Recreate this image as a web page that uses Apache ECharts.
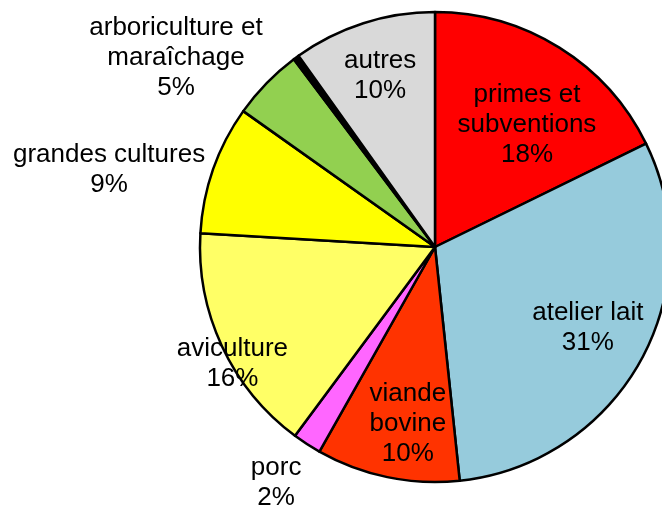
<!DOCTYPE html>
<html>
<head>
<meta charset="utf-8">
<script src="https://cdn.jsdelivr.net/npm/echarts@6/dist/echarts.min.js"></script>
<style>
  html, body { margin: 0; padding: 0; background: #fff; }
  #chart { width: 662px; height: 509px; }
</style>
</head>
<body>
<div id="chart"></div>
<script>
// slices clockwise from 12 o'clock
const categories = [
  "primes et\nsubventions",
  "atelier lait",
  "viande\nbovine",
  "porc",
  "aviculture",
  "grandes cultures",
  "arboriculture et\nmaraîchage",
  "",
  "autres",
];
const shares = [18, 31, 10, 2, 16, 9, 5, 0.4, 10];
const colors = [
  "#ff0000", "#96cbdc", "#ff3300", "#ff66ff", "#ffff66",
  "#ffff00", "#92d050", "#000000", "#d9d9d9",
];

// label placement: distance from centre (px) and angle nudge (deg)
const labelDist = [153, 173, 179, 284, 234, 335, 321, 0, 180];
const labelTurn = [5, -1, -3, 1, -5, -6, -8, 0, 0];

const CX = 435, CY = 247, R = 235;

const total = shares.reduce((a, b) => a + b, 0);
const midAngles = [];
let acc = 0;
shares.forEach((v) => {
  midAngles.push(((acc + v / 2) / total) * 360);
  acc += v;
});

const myChart = echarts.init(document.getElementById("chart"));

myChart.setOption({
  animation: false,
  series: [
    {
      type: "pie",
      center: [CX, CY],
      radius: R,
      startAngle: 90,
      clockwise: true,
      avoidLabelOverlap: false,
      itemStyle: {
        borderColor: "#000",
        borderWidth: 2.5,
      },
      label: {
        show: true,
        position: "inside",
        color: "#000",
        fontFamily: "Liberation Sans, Arial, sans-serif",
        fontSize: 26,
        lineHeight: 30,
        align: "center",
        formatter: (p) => (p.name ? p.name + "\n" + p.value + "%" : ""),
      },
      labelLine: { show: false },
      emphasis: { disabled: true },
      labelLayout: (params) => {
        const i = params.dataIndex;
        const a = ((midAngles[i] + labelTurn[i]) * Math.PI) / 180;
        return {
          x: CX + labelDist[i] * Math.sin(a),
          y: CY - labelDist[i] * Math.cos(a),
          align: "center",
          verticalAlign: "middle",
        };
      },
      data: categories.map((name, i) => ({
        name: name,
        value: shares[i],
        itemStyle: { color: colors[i] },
      })),
    },
  ],
});

window.addEventListener("resize", () => {
  myChart.resize();
});
</script>
</body>
</html>
